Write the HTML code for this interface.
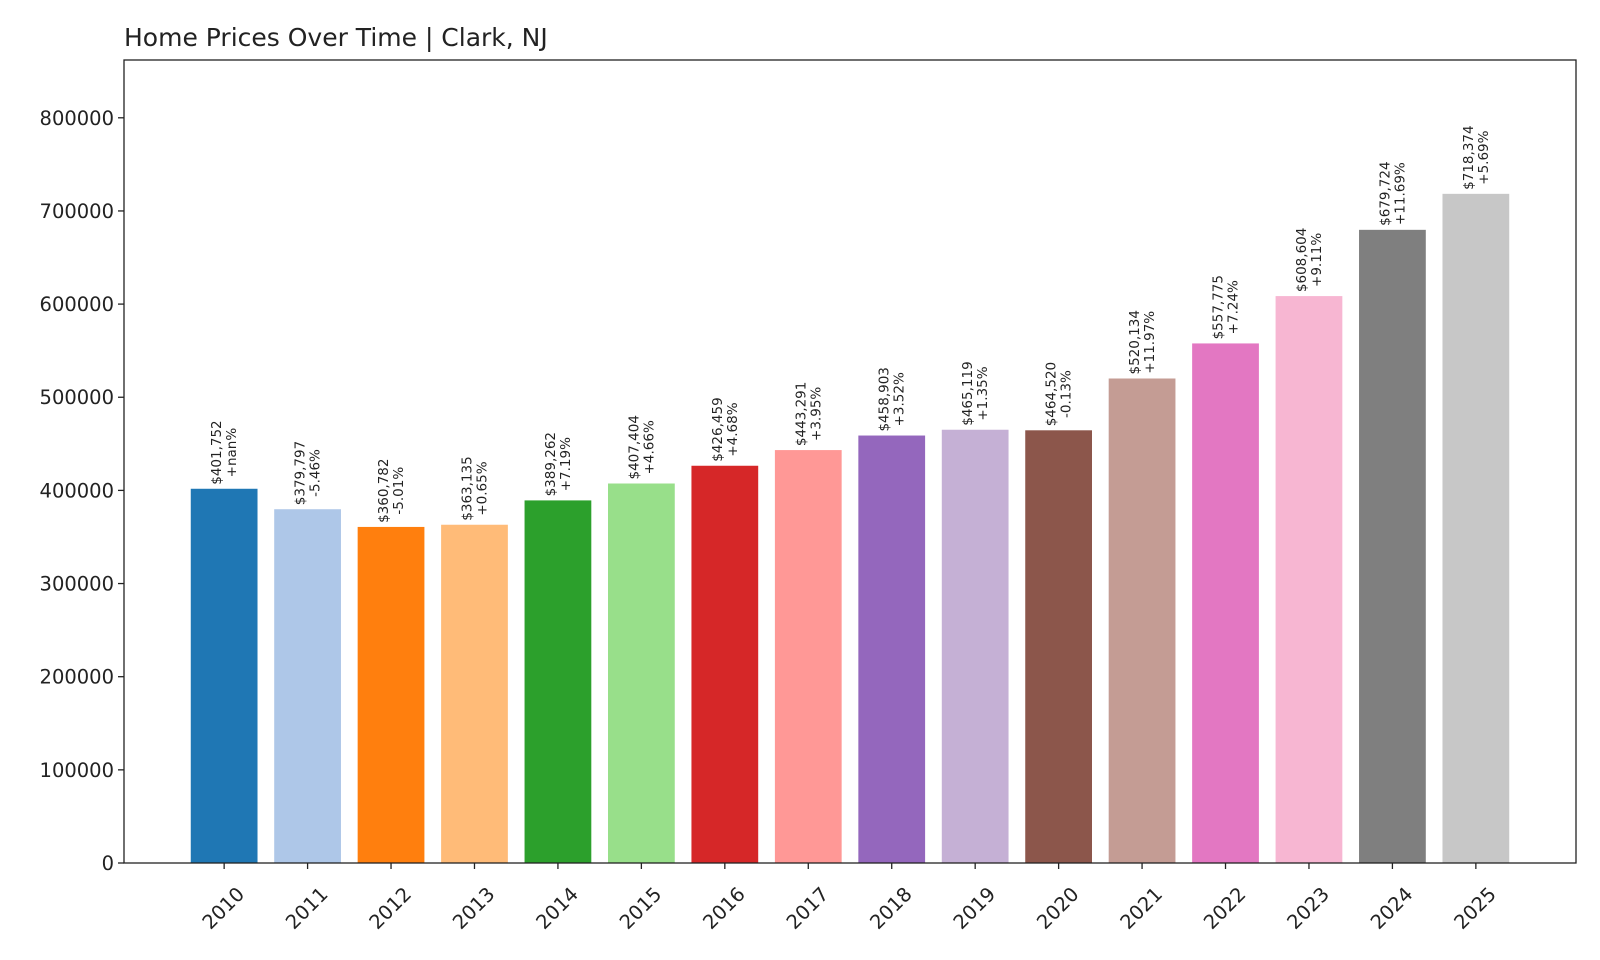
<!DOCTYPE html>
<html><head><meta charset="utf-8"><style>
html,body{margin:0;padding:0;background:#fff;}
svg{display:block;font-family:"DejaVu Sans","Liberation Sans",sans-serif;}
</style></head><body>
<svg id="chart" width="1600" height="960" viewBox="0 0 1600 960">
<text x="124" y="46" font-size="25" fill="#222">Home Prices Over Time | Clark, NJ</text>
<g id="bars"></g>
<g id="axes"></g>
</svg>
<script>
const years = ["2010","2011","2012","2013","2014","2015","2016","2017","2018","2019","2020","2021","2022","2023","2024","2025"];
const prices = [401752,379797,360782,363135,389262,407404,426459,443291,458903,465119,464520,520134,557775,608604,679724,718374];
const changes = ["+nan%","-5.46%","-5.01%","+0.65%","+7.19%","+4.66%","+4.68%","+3.95%","+3.52%","+1.35%","-0.13%","+11.97%","+7.24%","+9.11%","+11.69%","+5.69%"];
const yTicks = [0,100000,200000,300000,400000,500000,600000,700000,800000];
const colors = ["#1f77b4","#aec7e8","#ff7f0e","#ffbb78","#2ca02c","#98df8a","#d62728","#ff9896","#9467bd","#c5b0d5","#8c564b","#c49c94","#e377c2","#f7b6d2","#7f7f7f","#c7c7c7"];

const NS = "http://www.w3.org/2000/svg";
const L = 124, R = 1576, T = 60, B = 863;
const yMax = Math.max(...prices) * 1.2;
const n = years.length;
const step = (R - L) / (n - 1 + 2.4);
function xPos(i){ return L + (i + 1.2) * step; }
function yPos(v){ return B - v / yMax * (B - T); }
function el(tag, attrs, parent){ const e = document.createElementNS(NS, tag); for (const k in attrs) e.setAttribute(k, attrs[k]); parent.appendChild(e); return e; }

const barsG = document.getElementById("bars");
const axesG = document.getElementById("axes");
const bw = step * 0.8;
prices.forEach((v, i) => {
  const cx = xPos(i);
  const r = el("rect", {x: cx - bw/2, y: yPos(v), width: bw, height: B - yPos(v), fill: colors[i % colors.length]}, barsG);
  
  
  const t = el("text", {transform: `translate(${cx},${yPos(v) - 4}) rotate(-90)`, "font-size": 13.5, fill: "#222", "text-anchor": "start"}, barsG);
  
  
  const t1 = el("tspan", {x: 0, y: -3}, t); t1.textContent = "$" + v.toLocaleString("en-US");
  const t2 = el("tspan", {x: 0, y: 12}, t); t2.textContent = changes[i];
  // center the two lines on bar
  t1.setAttribute("text-anchor","middle"); t2.setAttribute("text-anchor","middle");
});
// fix text-anchor: we want left-aligned (bottom at bar top), so compute width offset
barsG.querySelectorAll("text").forEach(t => {
  const tsp = t.querySelectorAll("tspan");
  let w = 0; tsp.forEach(s => w = Math.max(w, s.getComputedTextLength()));
  tsp.forEach(s => { s.setAttribute("text-anchor","middle"); s.setAttribute("x", w/2); });
});

// spines
const frame = el("rect", {x: L, y: T, width: R - L, height: B - T, fill: "none", stroke: "#222", "stroke-width": 1.3}, axesG);


yTicks.forEach(v => {
  const y = yPos(v);
  el("line", {x1: L - 6, x2: L, y1: y, y2: y, stroke: "#222", "stroke-width": 1.3}, axesG);
  const t = el("text", {x: L - 10, y: y + 7, "font-size": 19.5, "text-anchor": "end", fill: "#222"}, axesG);
  
  
  t.textContent = v;
});
years.forEach((yr, i) => {
  const x = xPos(i);
  el("line", {x1: x, x2: x, y1: B, y2: B + 6, stroke: "#222", "stroke-width": 1.3}, axesG);
  const t = el("text", {transform: `translate(${x},${B + 46}) rotate(-45)`, "font-size": 19.5, "text-anchor": "middle", fill: "#222", "dominant-baseline": "middle"}, axesG);
  
  
  t.textContent = yr;
});
</script>
</body></html>
